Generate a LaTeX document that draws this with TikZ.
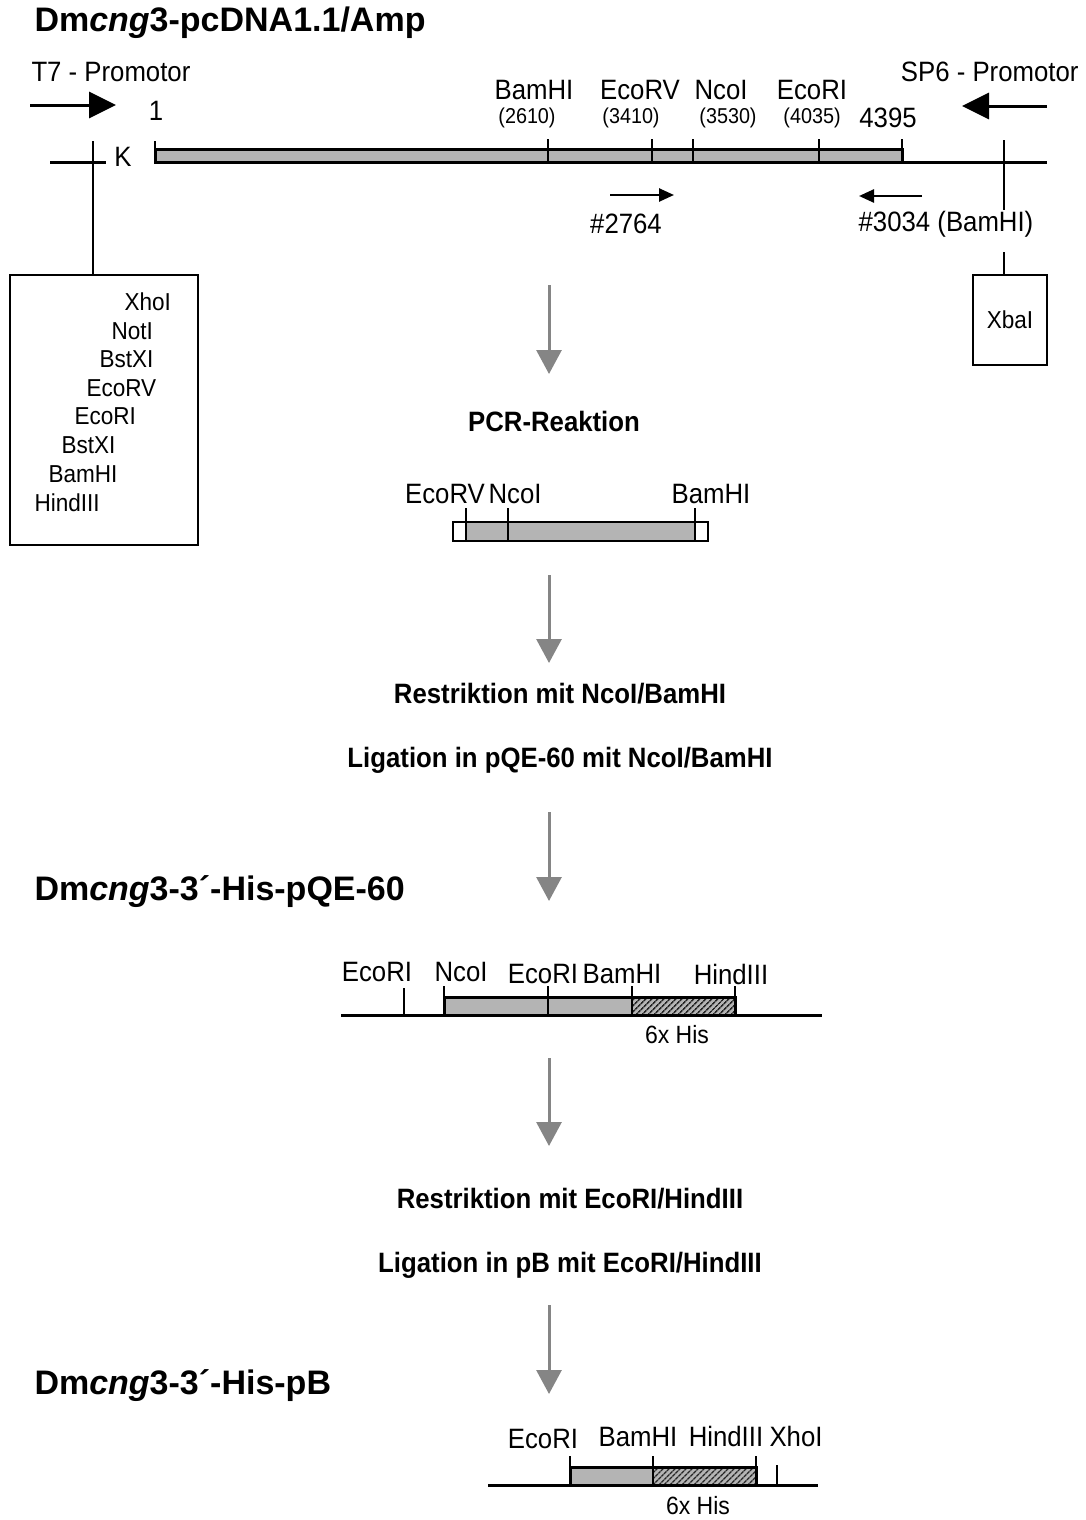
\documentclass[tikz,border=0pt]{standalone}
\usepackage{fontspec}
\setmainfont{Liberation Sans}
\newfontfamily\narrowsans{Liberation Sans}[FakeStretch=0.92]
\usetikzlibrary{arrows.meta,patterns.meta}
\definecolor{dotgrey}{HTML}{B4B4B4}
\definecolor{arrgrey}{HTML}{858585}
\begin{document}
\begin{tikzpicture}[x=1pt,y=-1pt,line width=3pt,
  lbl/.style={font=\narrowsans\fontsize{28}{30}\selectfont,inner sep=0pt},
  small/.style={font=\narrowsans\fontsize{21.5}{24}\selectfont,inner sep=0pt},
  boxlbl/.style={font=\narrowsans\fontsize{24.5}{27}\selectfont,inner sep=0pt,anchor=west},
  hislbl/.style={font=\narrowsans\fontsize{25}{27}\selectfont,inner sep=0pt},
  head/.style={font=\fontsize{34}{40}\selectfont\bfseries,anchor=west,inner sep=0pt},
  boldlbl/.style={font=\narrowsans\fontsize{28}{32}\selectfont\bfseries,inner sep=0pt},
  bigarrow/.style={line width=3pt,-{Triangle[length=27pt,width=26pt]}},
  primer/.style={line width=2.5pt,-{Triangle[length=15pt,width=13pt]}},
  procarrow/.style={arrgrey,line width=3pt,-{Triangle[length=24pt,width=25pt]}},
  tick/.style={line width=2.5pt},
  bar/.style={line width=3pt,fill=dotgrey},
  hatch/.style={pattern={Lines[angle=45,distance=4pt,line width=1.6pt]},pattern color=black!85}
]
\useasboundingbox (0,0) rectangle (1085,1520);

% ---------- top construct ----------
\node[head] (t1) at (33,23) {Dm\textit{cng}3-pcDNA1.1/Amp};
\node[lbl,anchor=west] (t7) at (30,72) {T7 - Promotor};
\node[lbl,anchor=east] (sp6) at (1080,72) {SP6 - Promotor};
\coordinate (t7a) at (30,105); \coordinate (t7b) at (116,105);
\draw[bigarrow] (t7a) -- (t7b);
\coordinate (sp6a) at (1047,106); \coordinate (sp6b) at (962,106);
\draw[bigarrow] (sp6a) -- (sp6b);

\node[lbl] (n1) at (156,111) {1};
\node[lbl] (K) at (123,157) {K};

% line and bar
\draw (50,162) -- (106,162);
\draw[bar] (155,149) rectangle (902,162);
\draw (902,162) -- (1047,162);
\draw[tick] (155,141) -- (155,163);
\foreach \xx in {548,652,693,819,902} \draw[tick] (\xx,139) -- (\xx,162);

\node[lbl] (b1) at (534,90) {BamHI};
\node[small] (b1n) at (527,118) {(2610)};
\node[lbl] (e1) at (640,90) {EcoRV};
\node[small] (e1n) at (631,118) {(3410)};
\node[lbl] (nc1) at (721,90) {NcoI};
\node[small] (nc1n) at (728,118) {(3530)};
\node[lbl] (er1) at (812,90) {EcoRI};
\node[small] (er1n) at (812,118) {(4035)};
\node[lbl] (end1) at (888,118) {4395};

% primers
\coordinate (p1a) at (610,195); \coordinate (p1b) at (674,195);
\draw[primer] (p1a) -- (p1b);
\node[lbl] (p1) at (626,224) {\#2764};
\coordinate (p2a) at (922,196); \coordinate (p2b) at (859,196);
\draw[primer] (p2a) -- (p2b);
\node[lbl] (p2) at (946,224) {\#3034 (BamHI)};

% left polylinker box
\node[draw,line width=2.5pt,minimum width=188,minimum height=270,inner sep=0pt] (lbox) at (104,410) {};
\coordinate (kx) at (93,141);
\draw[tick] (kx) -- (kx |- lbox.north);
\node[boxlbl] (s1) at (123,302) {XhoI};
\node[boxlbl] (s2) at (110,331) {NotI};
\node[boxlbl] (s3) at (98,359) {BstXI};
\node[boxlbl] (s4) at (85,388) {EcoRV};
\node[boxlbl] (s5) at (73,416) {EcoRI};
\node[boxlbl] (s6) at (60,445) {BstXI};
\node[boxlbl] (s7) at (47,474) {BamHI};
\node[boxlbl] (s8) at (33,503) {HindIII};

% right box
\node[draw,line width=2.5pt,minimum width=74,minimum height=90,inner sep=0pt,font=\narrowsans\fontsize{24.5}{27}\selectfont] (rbox) at (1010,320) {XbaI};
\coordinate (sx) at (1004,140);
\coordinate (sxa) at (1004,210);
\coordinate (sxb) at (1004,252);
\draw[tick] (sx) -- (sxa);
\draw[tick] (sxb) -- (sxb |- rbox.north);

% ---------- process arrows ----------
\foreach \nm/\ya/\yb in {a1/285/374,a2/575/663,a3/812/901,a4/1058/1146,a5/1305/1394}{
  \coordinate (\nm s) at (549,\ya); \coordinate (\nm e) at (549,\yb);
  \draw[procarrow] (\nm s) -- (\nm e);
}

\node[boldlbl] (pcr) at (554,421) {PCR-Reaktion};

% PCR fragment
\draw[line width=2.5pt,fill=white] (453,522) rectangle (708,541);
\fill[dotgrey] (466,522) rectangle (695,541);
\draw[line width=2.5pt] (453,522) rectangle (708,541);
\foreach \xx in {466,508,695} \draw[tick] (\xx,508) -- (\xx,541);
\node[lbl] (f1) at (445,494) {EcoRV};
\node[lbl] (f2) at (515,494) {NcoI};
\node[lbl] (f3) at (711,494) {BamHI};

\node[boldlbl] (r1) at (560,694) {Restriktion mit NcoI/BamHI};
\node[boldlbl] (l1) at (560,760) {Ligation in pQE-60 mit NcoI/BamHI};

% ---------- pQE construct ----------
\node[head] (t2) at (33,892) {Dm\textit{cng}3-3´-His-pQE-60};
\draw (341,1015) -- (822,1015);
\fill[dotgrey] (444,997) rectangle (735,1015);
\fill[hatch] (632,997) rectangle (735,1015);
\draw (444,997) rectangle (735,1015);
\draw[tick] (404,988) -- (404,1015);
\foreach \xx in {444,548,632,735} \draw[tick] (\xx,986) -- (\xx,1015);
\node[lbl] (q1) at (377,972) {EcoRI};
\node[lbl] (q2) at (461,972) {NcoI};
\node[lbl] (q3) at (543,974) {EcoRI};
\node[lbl] (q4) at (622,974) {BamHI};
\node[lbl] (q5) at (731,974) {HindIII};
\node[hislbl] (q6) at (677,1035) {6x His};

\node[boldlbl] (r2) at (570,1199) {Restriktion mit EcoRI/HindIII};
\node[boldlbl] (l2) at (570,1265) {Ligation in pB mit EcoRI/HindIII};

% ---------- pB construct ----------
\node[head] (t3) at (33,1386) {Dm\textit{cng}3-3´-His-pB};
\draw (488,1485) -- (818,1485);
\fill[dotgrey] (570,1467) rectangle (756,1485);
\fill[hatch] (653,1467) rectangle (756,1485);
\draw (570,1467) rectangle (756,1485);
\foreach \xx in {570,653,756} \draw[tick] (\xx,1456) -- (\xx,1485);
\draw[tick] (777,1465) -- (777,1485);
\node[lbl] (u1) at (543,1439) {EcoRI};
\node[lbl] (u2) at (638,1437) {BamHI};
\node[lbl] (u3) at (726,1436) {HindIII};
\node[lbl] (u4) at (796,1436) {XhoI};
\node[hislbl] (u5) at (698,1506) {6x His};
\end{tikzpicture}
\end{document}
